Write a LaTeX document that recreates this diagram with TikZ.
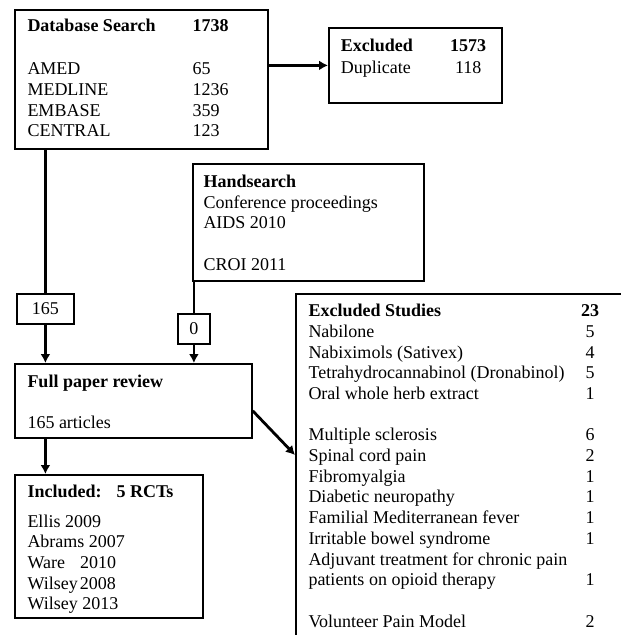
\documentclass[tikz,border=0pt]{standalone}
\usepackage{fontspec}
\setmainfont{Liberation Serif}
\usetikzlibrary{arrows.meta}

\begin{document}
\begin{tikzpicture}[x=1pt,y=-1pt,
    box/.style={draw,line width=1.8pt,rectangle,anchor=north west,inner sep=0pt,
      font=\fontsize{18}{20.7}\selectfont},
    txt/.style={anchor=north west,inner sep=0pt,font=\fontsize{18}{20.7}\selectfont},
    arr/.style={line width=2.8pt,-{Latex[length=9pt,width=10pt]}}]
  \useasboundingbox (0,0) rectangle (621,635);
  \clip (0,0) rectangle (621,635);
  % boxes
  \node[box,minimum width=253pt,minimum height=139pt] (db) at (14,9) {};
  \node[box,minimum width=173pt,minimum height=75pt] (excl) at (328,27) {};
  \node[box,minimum width=231pt,minimum height=117pt] (hand) at (192,163) {};
  \node[box,minimum width=57pt,minimum height=30pt] (n165) at (16,293) {165};
  \node[box,minimum width=32pt,minimum height=30pt] (n0) at (177,313) {0};
  \node[box,minimum width=237pt,minimum height=74pt] (full) at (14,363) {};
  \node[box,minimum width=188pt,minimum height=143pt] (incl) at (14,474) {};
  \node[box,minimum width=360pt,minimum height=380pt] (exst) at (295,293) {};
  % texts
  \node[txt] (dbtext) at (27.3,16.5) {\begin{tabular}{@{}p{165.2pt}@{}l@{}}
      \textbf{Database Search} & \textbf{1738}\\[22.8pt]
      AMED & 65\\
      MEDLINE & 1236\\
      EMBASE & 359\\
      CENTRAL & 123
    \end{tabular}};
  \node[txt] (excltext) at (340.7,37) {\begin{tabular}{@{}p{109.3pt}@{}c@{}}
      \textbf{Excluded} & \textbf{1573}\\[0.8pt]
      Duplicate & 118
    \end{tabular}};
  \node[txt] (handtext) at (203.3,172.8) {\begin{tabular}{@{}l@{}}
      \textbf{Handsearch}\\
      Conference proceedings\\
      AIDS 2010\\
      \\
      CROI 2011
    \end{tabular}};
  \node[txt] (fulltext) at (27.3,372.5) {\begin{tabular}{@{}l@{}}
      \textbf{Full paper review}\\
      \\
      165 articles
    \end{tabular}};
  \node[txt] (incltext) at (27.3,483.2) {\begin{tabular}{@{}l@{}}
      \textbf{Included:}\hspace{15pt}\textbf{5 RCTs}\\[8.6pt]
      Ellis 2009\\
      Abrams 2007\\
      Ware\hspace{15pt}2010\\
      Wilsey\hspace{2pt}2008\\
      Wilsey 2013
    \end{tabular}};
  \node[txt] (exsttext) at (308.3,302) {\begin{tabular}{@{}p{272.7pt}@{}c@{}}
      \textbf{Excluded Studies} & \textbf{23}\\
      Nabilone & 5\\
      Nabiximols (Sativex) & 4\\
      Tetrahydrocannabinol (Dronabinol) & 5\\
      Oral whole herb extract & 1\\
      & \\
      Multiple sclerosis & 6\\
      Spinal cord pain & 2\\
      Fibromyalgia & 1\\
      Diabetic neuropathy & 1\\
      Familial Mediterranean fever & 1\\
      Irritable bowel syndrome & 1\\
      Adjuvant treatment for chronic pain & \\
      patients on opioid therapy & 1\\
      & \\
      Volunteer Pain Model & 2
    \end{tabular}};
  % connectors
  \draw[arr] (db.east |- excl.west) -- (excl.west);
  \draw[line width=2.8pt] (db.south -| n165.north) -- (n165.north);
  \draw[arr] (n165.south) -- (n165.south |- full.north);
  \draw[line width=2.8pt] (n0.north |- hand.south) -- (n0.north);
  \draw[arr] (n0.south) -- (n0.south |- full.north);
  \draw[arr] ([yshift=-10pt]full.east) -- ([yshift=-162pt]exst.north west);
  \draw[arr] (full.south -| n165.south) -- (n165.south |- incl.north);
\end{tikzpicture}
\end{document}
